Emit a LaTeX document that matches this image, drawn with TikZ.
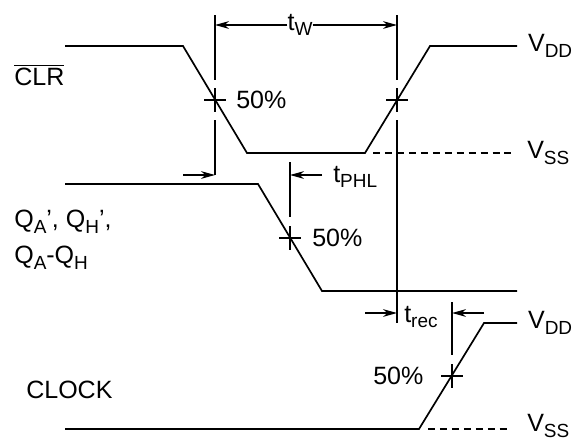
\documentclass[tikz,border=0pt]{standalone}
\usepackage{fontspec}
\setmainfont{Liberation Sans}
\usepackage{tikz}
\usetikzlibrary{positioning,arrows.meta,calc}
\newcommand{\halfpt}[1]{%
  \draw[tickline] ($(#1)+(-11,0)$) -- ($(#1)+(11,0)$) ($(#1)+(0,-12)$) -- ($(#1)+(0,12)$);%
}
\newcommand{\lo}[1]{\raisebox{-0.22em}{\fontsize{13.5}{14}\selectfont #1}}

\begin{document}
\begin{tikzpicture}[x=0.025cm, y=-0.025cm, font=\fontsize{17.8}{21}\selectfont,
    wave/.style={line width=1.2pt},
    tickline/.style={line width=1.7pt},
    dim/.style={line width=1pt, -{Stealth[length=10pt,width=5.5pt]}},
    lvl/.style={line width=1.2pt, dash pattern=on 5pt off 3.5pt},
    lbl/.style={inner sep=0pt, anchor=west}]
  \useasboundingbox (0,0) rectangle (577,441);
  % CLR
  \coordinate (c0) at (65,46);   \coordinate (c1) at (183,46);
  \coordinate (c2) at (247,153); \coordinate (c3) at (365,153);
  \coordinate (c4) at (430,46);  \coordinate (c5) at (517,46);
  \coordinate (c6) at (373,153); \coordinate (c7) at (511,153);
  \draw[wave] (c0) -- (c1) -- (c2) -- (c3) -- (c4) -- (c5);
  \draw[lvl] (c6) -- (c7);
  % Q outputs
  \coordinate (q0) at (65,184);  \coordinate (q1) at (258,184);
  \coordinate (q2) at (322,291); \coordinate (q3) at (517,291);
  \draw[wave] (q0) -- (q1) -- (q2) -- (q3);
  % CLOCK
  \coordinate (k0) at (65,429);  \coordinate (k1) at (419,429);
  \coordinate (k2) at (484,323); \coordinate (k3) at (517,323);
  \coordinate (k4) at (428,429); \coordinate (k5) at (511,429);
  \draw[wave] (k0) -- (k1) -- (k2) -- (k3);
  \draw[lvl] (k4) -- (k5);

  \coordinate (a1) at (215,15);  \coordinate (a2) at (215,80);
  \coordinate (a3) at (215,120); \coordinate (a4) at (215,175);
  \coordinate (r1) at (397,15);  \coordinate (r2) at (397,80);
  \coordinate (r3) at (397,120); \coordinate (r4) at (397,323);
  \coordinate (b1) at (290,162); \coordinate (b2) at (290,217);
  \coordinate (e1) at (452,302); \coordinate (e2) at (452,355);
  \draw[tickline] (a1) -- (a2) (a3) -- (a4) (r1) -- (r2) (r3) -- (r4) (b1) -- (b2) (e1) -- (e2);
  \coordinate (x1) at (215,100); \coordinate (x2) at (397,100);
  \coordinate (x3) at (290,238); \coordinate (x4) at (452,376);
  \halfpt{x1} \halfpt{x2} \halfpt{x3} \halfpt{x4}

  \node[lbl] (clr) at (14,75) {$\overline{\mbox{CLR}}$};
  \node[lbl] (qa1) at (14,222) {Q\lo{A}', Q\lo{H}',};
  \node[lbl] (qa2) at (14,258) {Q\lo{A}-Q\lo{H}};
  \node[lbl] (clk) at (26,390) {CLOCK};
  \node[lbl, right=0.27cm of c5] (vdd1) {V\lo{DD}};
  \node[lbl, right=0.4cm of c7] (vss1) {V\lo{SS}};
  \node[lbl, right=0.27cm of k3] (vdd2) {V\lo{DD}};
  \node[lbl, right=0.4cm of k5, yshift=0.07cm] (vss2) {V\lo{SS}};
  \node[lbl] (p1) at (236,100) {50\%};
  \node[lbl] (p2) at (312,238) {50\%};
  \node[lbl] (p3) at (373,376) {50\%};

  \node[inner sep=0pt] (tw) at (300,25) {t\lo{W}};
  \draw[dim] (tw.west) -- (tw.west -| a1);
  \draw[dim] (tw.east) -- (tw.east -| r1);
  \coordinate (s1) at (183,175);
  \draw[dim] (s1) -- (s1 -| a4);
  \node[lbl] (tphl) at (333,177) {t\lo{PHL}};
  \coordinate (s2) at (322,175);
  \draw[dim] (s2) -- (s2 -| b1);
  \node[lbl] (trec) at (404,317) {t\lo{rec}};
  \coordinate (s3) at (365,313);
  \draw[dim] (s3) -- (s3 -| r4);
  \coordinate (s4) at (484,313);
  \draw[dim] (s4) -- (s4 -| e1);
\end{tikzpicture}
\end{document}
